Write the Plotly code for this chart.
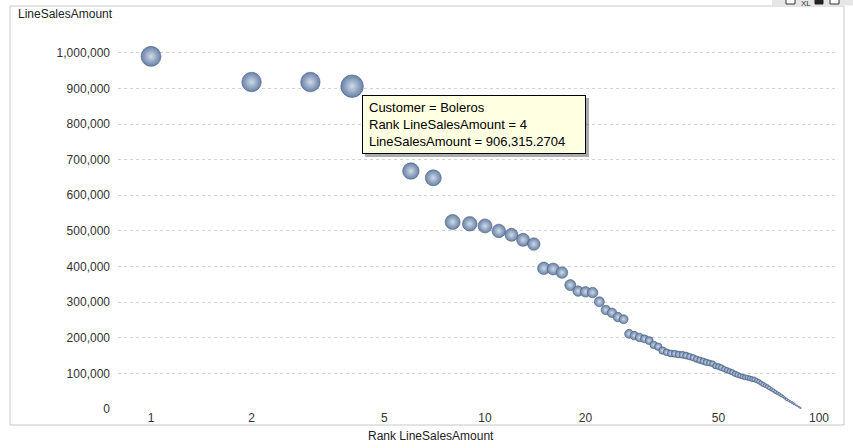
import math
import plotly.graph_objects as go

# ---- data ----
rank = list(range(1, 89))
line_sales_thousands = [
    990, 918, 918, 906.3152704, 790, 668, 649, 525, 520, 514,
    500, 489, 475, 463, 395, 393, 383, 348, 331, 329,
    327, 301, 278, 270, 258, 252, 211, 206, 201, 197,
    192, 180, 175, 164, 159, 156, 155, 153, 152, 150,
    147, 144, 140, 137, 134, 131, 129, 127, 121, 119,
    116, 112, 109, 106, 103, 99, 96, 93, 91, 89,
    88, 86, 84, 83, 80, 77, 73, 69, 66, 63,
    59, 55, 52, 48, 45, 42, 38, 35, 31, 27,
    24, 21, 18, 15, 12, 9, 6, 3,
]
line_sales = [v * 1000 for v in line_sales_thousands]
bubble_size = [
    20, 19.5, 19.5, 22.5, 19, 16.5, 16, 15, 14.5, 14,
    13.5, 13, 13, 12.5, 12.5, 12, 11.5, 11, 10.5, 10.5,
    10.5, 10, 9.5, 9.5, 9.5, 9, 9, 8.5, 8.5, 8,
    8, 7.5, 7.5, 7.5, 7, 7, 7, 7, 7, 7,
    6.5, 6.5, 6.5, 6.5, 6.5, 6.5, 6, 6, 6, 6,
    6, 5.5, 5.5, 5.5, 5.5, 5.5, 5.5, 5, 5, 5,
    5, 5, 5, 5, 4.5, 4.5, 4.5, 4.5, 4, 4,
    4, 3.5, 3.5, 3.5, 3, 3, 3, 2.5, 2.5, 2.5,
    2, 2, 2, 2, 1.5, 1.5, 1.5, 1.5,
]
x_ticks = [1, 2, 5, 10, 20, 50, 100]
y_ticks = [0, 100000, 200000, 300000, 400000, 500000, 600000, 700000, 800000, 900000, 1000000]
tooltip_lines = ["Customer = Boleros", "Rank LineSalesAmount = 4", "LineSalesAmount = 906,315.2704"]

# ---- layout geometry ----
W, H = 853, 448
L, R, T, B = 118, 837, 35, 409
PW, PH = R - L, B - T


def px(x):
    return (x - L) / PW


def py(y):
    return (B - y) / PH


FONT = "Liberation Sans, Arial, sans-serif"

fig = go.Figure()
fig.add_trace(go.Scatter(
    x=rank, y=line_sales, mode="markers",
    marker=dict(
        size=bubble_size, color="#6881a6",
        gradient=dict(type="radial", color="#cfdbe9"),
        line=dict(color="#4c6283", width=0.6),
        opacity=1,
    ),
    hoverinfo="skip", showlegend=False,
))

shapes = [
    # outer frame
    dict(type="rect", xref="paper", yref="paper", x0=px(10), x1=px(844), y0=py(425), y1=py(6),
         line=dict(color="#c8c8c8", width=1), fillcolor="rgba(0,0,0,0)", layer="below"),
    # caption icon strip
    dict(type="rect", xref="paper", yref="paper", x0=px(772), x1=px(853), y0=py(5.5), y1=py(-2),
         line=dict(width=0), fillcolor="#e6e6e6"),
    dict(type="rect", xref="paper", yref="paper", x0=px(786), x1=px(795), y0=py(4), y1=py(-4),
         line=dict(color="#333", width=1), fillcolor="white"),
    dict(type="rect", xref="paper", yref="paper", x0=px(815), x1=px(823), y0=py(4), y1=py(-4),
         line=dict(color="#222", width=1), fillcolor="#222"),
    dict(type="rect", xref="paper", yref="paper", x0=px(830), x1=px(839), y0=py(4), y1=py(-4),
         line=dict(color="#333", width=1), fillcolor="white"),
    # tooltip drop shadow
    dict(type="rect", xref="paper", yref="paper", x0=px(365), x1=px(589), y0=py(157), y1=py(98),
         line=dict(width=0), fillcolor="rgba(70,70,70,0.45)", layer="above"),
]

annotations = [
    dict(text="LineSalesAmount", xref="paper", yref="paper", x=px(16), y=py(5),
         xanchor="left", yanchor="top", showarrow=False, font=dict(family=FONT, size=12, color="#222")),
    dict(text="Rank LineSalesAmount", xref="paper", yref="paper", x=px(431), y=py(427),
         xanchor="center", yanchor="top", showarrow=False, font=dict(family=FONT, size=12, color="#222")),
    dict(text="XL", xref="paper", yref="paper", x=px(806), y=py(-3),
         xanchor="center", yanchor="top", showarrow=False, font=dict(family=FONT, size=8, color="#333")),
]

tip_text = "<br>".join(tooltip_lines)
box_w, box_h = 224, 59
annotations.append(dict(
    text=tip_text, xref="paper", yref="paper", x=px(362), y=py(95), xanchor="left", yanchor="top",
    showarrow=False, align="left", width=box_w - 14, height=box_h - 14, borderpad=6,
    bgcolor="#ffffe1", borderwidth=1, bordercolor="#000000",
    font=dict(family=FONT, size=13, color="#000000"),
))

x0 = math.log10(1) - (151 - L) / 334
x1 = math.log10(1) + (R - 151) / 334

fig.update_layout(
    width=W, height=H,
    margin=dict(l=L, r=W - R, t=T, b=H - B, pad=0),
    paper_bgcolor="white", plot_bgcolor="white",
    font=dict(family=FONT, size=12, color="#333"),
    xaxis=dict(type="log", range=[x0, x1], tickvals=x_ticks, ticktext=[str(t) for t in x_ticks],
               showgrid=False, zeroline=False, showline=False, ticks="",
               tickfont=dict(family=FONT, size=12, color="#333"), ticklabelstandoff=0),
    yaxis=dict(range=[0, 1050000], tickvals=y_ticks, tickformat=",d",
               showgrid=True, gridcolor="#d4d4d4", griddash="dot", gridwidth=1,
               zeroline=False, showline=False, ticks="",
               tickfont=dict(family=FONT, size=12, color="#333"), ticklabelstandoff=7),
    shapes=shapes, annotations=annotations,
    hovermode=False,
)

fig.write_html(
    "out.html",
    config={"displayModeBar": False},
    post_script="document.body.style.margin='0';document.body.style.overflow='hidden';",
)
